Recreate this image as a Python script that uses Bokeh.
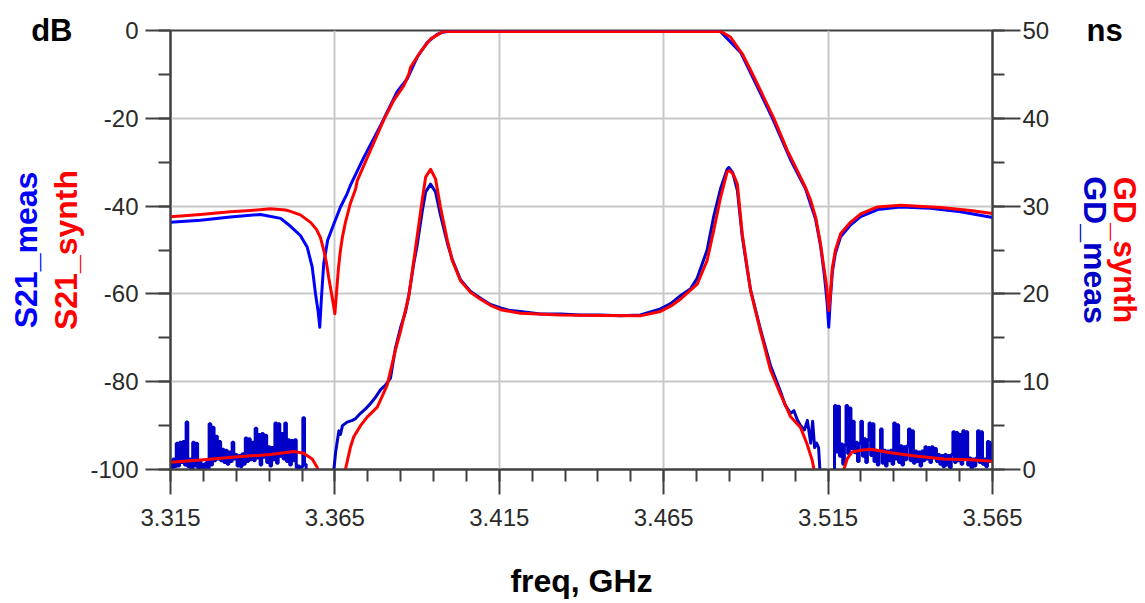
import numpy as np
from bokeh.plotting import figure
from bokeh.models import Range1d, LinearAxis, FixedTicker, PrintfTickFormatter
from bokeh.embed import file_html
from bokeh.resources import INLINE

# ---------------- axes / ticks ----------------
x_ticks = [3.315, 3.365, 3.415, 3.465, 3.515, 3.565]
x_minor = [round(3.315 + 0.01 * k, 3) for k in range(26)]
db_ticks = [-100, -80, -60, -40, -20, 0]
db_minor = list(range(-100, 1, 10))
ns_ticks = [0, 10, 20, 30, 40, 50]
ns_minor = list(range(0, 51, 5))

# ---------------- S21 (dB) ----------------
s21_synth_f = [3.3150, 3.3241, 3.3332, 3.3393, 3.3454, 3.3500, 3.3515, 3.3545, 3.3576, 3.3594,
               3.3606, 3.3616, 3.3624, 3.3631, 3.3640, 3.3650, 3.3657, 3.3661, 3.3667, 3.3673,
               3.3682, 3.3697, 3.3713, 3.3718, 3.3758, 3.3799, 3.3829, 3.3860, 3.3875, 3.3880,
               3.3910, 3.3941, 3.3971, 3.3981, 3.4000, 3.4400, 3.4817, 3.4823, 3.4828, 3.4853,
               3.4889, 3.4914, 3.4944, 3.4985, 3.5026, 3.5041, 3.5066, 3.5081, 3.5097, 3.5112,
               3.5127, 3.5137, 3.5145, 3.5152, 3.5157, 3.5163, 3.5172, 3.5188, 3.5218, 3.5249,
               3.5300, 3.5370, 3.5492, 3.5583, 3.5650]
s21_synth_db = [-42.4, -41.9, -41.3, -41.0, -40.6, -40.9, -41.2, -42.0, -43.7, -45.3,
                -47.2, -50.0, -52.8, -56.2, -60.0, -64.5, -57.7, -54.0, -50.0, -47.0,
                -43.7, -39.4, -36.1, -34.2, -27.3, -20.3, -15.9, -12.5, -9.9, -8.4,
                -4.9, -1.9, -0.6, -0.25, -0.2, -0.2, -0.2, -0.3, -0.4, -1.5,
                -5.3, -9.0, -13.6, -20.0, -27.3, -29.6, -33.4, -35.7, -38.7, -42.5,
                -48.6, -53.9, -58.0, -63.8, -60.0, -54.0, -50.1, -46.3, -43.7, -41.8,
                -40.2, -39.8, -40.3, -41.0, -41.7]

s21_meas_f = [3.3150, 3.3241, 3.3332, 3.3424, 3.3485, 3.3515, 3.3545, 3.3566, 3.3581, 3.3591,
              3.3599, 3.3604, 3.3609, 3.3616, 3.3628, 3.3647, 3.3667, 3.3687, 3.3697, 3.3738,
              3.3789, 3.3839, 3.3870, 3.3900, 3.3931, 3.3961, 3.3976, 3.4000, 3.4400, 3.4817,
              3.4823, 3.4884, 3.4981, 3.5036, 3.5081, 3.5112, 3.5127, 3.5139, 3.5147, 3.5152,
              3.5157, 3.5163, 3.5172, 3.5188, 3.5218, 3.5249, 3.5301, 3.5370, 3.5461, 3.5553,
              3.5650]
s21_meas_db = [-43.7, -43.2, -42.5, -41.9, -42.8, -44.6, -46.7, -49.4, -53.9, -60.0,
               -64.0, -67.6, -61.0, -53.1, -47.8, -44.0, -40.2, -37.2, -35.3, -28.9,
               -21.6, -14.0, -11.0, -6.1, -2.7, -0.9, -0.4, -0.2, -0.2, -0.2,
               -0.3, -5.0, -20.0, -29.5, -36.0, -43.0, -49.0, -56.0, -62.0, -67.6,
               -61.0, -55.0, -50.8, -47.0, -44.3, -42.4, -40.8, -40.2, -40.5, -41.3,
               -42.6]

# ---------------- group delay (ns) ----------------
gd_synth_f = [3.3150, 3.3251, 3.3373, 3.3454, 3.3525, 3.3555, 3.3581, 3.3596, 3.3606, 3.3637,
              3.3676, 3.3682, 3.3697, 3.3707, 3.3728, 3.3748, 3.3779, 3.3809, 3.3834, 3.3850,
              3.3875, 3.3890, 3.3900, 3.3916, 3.3926, 3.3941, 3.3956, 3.3971, 3.3992, 3.4007,
              3.4032, 3.4062, 3.4093, 3.4123, 3.4154, 3.4214, 3.4336, 3.4458, 3.4579, 3.4640,
              3.4671, 3.4701, 3.4752, 3.4782, 3.4802, 3.4823, 3.4843, 3.4851, 3.4862, 3.4874,
              3.4889, 3.4904, 3.4914, 3.4944, 3.4975, 3.5005, 3.5036, 3.5066, 3.5086, 3.5102,
              3.5107, 3.5115, 3.5157, 3.5191, 3.5198, 3.5208, 3.5223, 3.5249, 3.5279, 3.5340,
              3.5421, 3.5502, 3.5583, 3.5650]
gd_synth_ns = [0.83, 1.1, 1.5, 1.7, 2.05, 1.86, 1.2, 0.26, -1.5, -5.0,
               -1.0, 0.0, 2.5, 3.7, 5.0, 5.96, 7.1, 9.6, 13.6, 15.8,
               19.8, 23.8, 26.5, 30.8, 33.3, 34.2, 33.1, 29.9, 26.1, 23.8,
               21.5, 20.2, 19.4, 18.7, 18.2, 17.8, 17.6, 17.55, 17.5, 18.0,
               18.6, 19.4, 21.1, 23.8, 27.2, 31.0, 33.9, 34.05, 33.6, 32.5,
               26.8, 23.0, 20.4, 15.8, 11.3, 8.6, 6.0, 4.8, 2.9, 1.0,
               0.0, -1.5, -5.0, -1.0, 0.0, 1.2, 2.0, 2.2, 2.3, 1.9,
               1.5, 1.2, 1.1, 0.95]

# measured GD, noisy stop band below the passband (one sample every 0.5 MHz from 3.315 GHz)
gd_meas_low_start = 3.315
gd_meas_low_ns = [0.9, 0.2, 1.2, 0.3, 3.0, 0.4, 3.1, 0.8, 3.2, 0.5,
                  5.4, 0.3, 1.2, -0.3, 3.1, 0.4, 3.0, 0.2, 1.0, -0.2,
                  0.6, -0.4, 0.8, 0.1, 5.2, 0.5, 4.8, 1.0, 3.8, 1.2,
                  3.2, 1.0, 2.3, 0.8, 2.2, 0.6, 2.0, 0.9, 3.1, 1.2,
                  1.7, 0.4, 1.6, 0.3, 1.8, 0.6, 3.6, 0.9, 3.5, 1.1,
                  3.1, 1.0, 4.7, 1.3, 4.0, 0.5, 4.1, 1.4, 3.9, 0.8,
                  2.6, 0.4, 2.5, 1.1, 5.3, 0.7, 5.2, 1.5, 4.1, 1.2,
                  5.3, 0.9, 3.4, 0.5, 3.3, 1.0, 3.4, 0.2, 0.4, -0.3,
                  0.3, 5.9, 0.6, -1.0]
# measured GD, passband region
gd_meas_mid_f = [3.3576, 3.3640, 3.3647, 3.3652, 3.3662, 3.3667, 3.3673, 3.3687, 3.3703, 3.3713,
                 3.3728, 3.3743, 3.3758, 3.3773, 3.3789, 3.3804, 3.3819, 3.3834, 3.3850, 3.3865,
                 3.3875, 3.3890, 3.3900, 3.3916, 3.3926, 3.3941, 3.3956, 3.3971, 3.3992, 3.4007,
                 3.4032, 3.4062, 3.4093, 3.4123, 3.4154, 3.4184, 3.4214, 3.4275, 3.4336, 3.4397,
                 3.4458, 3.4519, 3.4579, 3.4640, 3.4671, 3.4701, 3.4732, 3.4752, 3.4782, 3.4802,
                 3.4823, 3.4843, 3.4848, 3.4860, 3.4874, 3.4889, 3.4904, 3.4914, 3.4944, 3.4975,
                 3.5005, 3.5020, 3.5036, 3.5046, 3.5057, 3.5066, 3.5078, 3.5087, 3.5097, 3.5103,
                 3.5109, 3.5115, 3.5121, 3.5125, 3.5130, 3.5163]
gd_meas_mid_ns = [-4.0, -4.0, 0.0, 1.9, 4.4, 4.0, 5.0, 5.4, 5.6, 5.8,
                  6.4, 6.9, 7.5, 8.2, 9.1, 9.6, 10.4, 13.8, 16.2, 18.0,
                  19.9, 23.5, 25.5, 29.5, 31.6, 32.5, 31.6, 29.0, 25.8, 23.9,
                  21.6, 20.3, 19.5, 18.8, 18.4, 18.1, 18.0, 17.7, 17.7, 17.6,
                  17.6, 17.5, 17.6, 18.3, 18.9, 19.8, 20.6, 21.8, 25.0, 28.8,
                  32.0, 34.2, 34.4, 33.8, 31.8, 26.5, 22.8, 20.5, 16.0, 11.8,
                  8.9, 7.3, 6.4, 6.7, 5.6, 5.0, 4.5, 5.6, 3.0, 5.5,
                  2.5, 3.0, 2.5, 0.0, -3.0, -3.0]
# measured GD, noisy stop band above the passband (one sample every 0.5 MHz from 3.5167 GHz)
gd_meas_high_start = 3.5167
gd_meas_high_ns = [-0.5, 7.3, 2.0, 7.2, 1.5, 2.9, 0.6, 2.8, 7.3, 1.8,
                   7.0, 2.4, 5.5, 1.9, 3.1, 0.9, 3.0, 5.5, 1.5, 3.5,
                   0.8, 3.4, 5.3, 1.6, 5.2, 0.9, 2.2, 0.5, 2.1, 4.6,
                   0.7, 2.2, 0.4, 2.1, 1.0, 2.2, 0.6, 5.3, 1.2, 5.1,
                   0.8, 2.7, 0.5, 2.6, 1.1, 2.7, 4.6, 1.0, 4.4, 0.7,
                   2.1, 0.9, 2.0, 0.4, 2.1, 1.0, 2.6, 1.2, 2.5, 0.8,
                   2.6, 1.3, 2.4, 0.9, 1.7, 0.6, 1.6, 0.3, 1.7, 0.5,
                   1.6, 0.2, 1.7, 4.3, 0.8, 4.2, 1.0, 4.0, 0.6, 4.4,
                   1.2, 4.3, 0.5, 1.3, 0.2, 1.2, 0.4, 1.3, 4.4, 0.8,
                   4.3, 0.6, 1.2, 0.3, 3.2, 0.9, 3.1]

gd_meas_low_f = list(gd_meas_low_start + 0.0005 * np.arange(len(gd_meas_low_ns)))
gd_meas_high_f = list(gd_meas_high_start + 0.0005 * np.arange(len(gd_meas_high_ns)))

# ---------------- styling ----------------
BLUE = "#0000FF"
DBLUE = "#0000C8"
RED = "#FF0000"
FONT = "Liberation Sans"
AX = "#404040"

p = figure(width=1145, height=603, title=None,
           x_range=Range1d(3.315, 3.565), y_range=Range1d(-100, 0),
           output_backend="svg", toolbar_location=None,
           min_border_left=170, min_border_right=153,
           min_border_top=30, min_border_bottom=134)
p.extra_y_ranges = {"gd": Range1d(0, 50)}
p.background_fill_color = "white"
p.border_fill_color = "white"
p.outline_line_color = AX
p.outline_line_width = 2


def style_axis(ax, tick_out, standoff):
    ax.axis_line_color = AX
    ax.axis_line_width = 2
    ax.major_tick_line_color = AX
    ax.major_tick_line_width = 2
    ax.minor_tick_line_color = AX
    ax.minor_tick_line_width = 2
    ax.major_tick_in = 0
    ax.major_tick_out = tick_out
    ax.minor_tick_in = 0
    ax.minor_tick_out = 12
    ax.major_label_text_font = FONT
    ax.major_label_text_font_size = "24px"
    ax.major_label_text_color = "#2a2a2a"
    ax.major_label_standoff = standoff


def text_axis(ax, label, color, label_standoff, tick_text=None, tick_standoff=0, size="32px"):
    """An axis without line or tick marks that only carries texts."""
    ax.axis_line_color = None
    ax.major_tick_line_color = None
    ax.minor_tick_line_color = None
    ax.major_tick_in = 0
    ax.major_tick_out = 0
    ax.minor_tick_in = 0
    ax.minor_tick_out = 0
    ax.axis_label = label
    ax.axis_label_text_font = FONT
    ax.axis_label_text_font_style = "bold"
    ax.axis_label_text_font_size = size
    ax.axis_label_text_color = color
    ax.axis_label_standoff = label_standoff
    ax.major_label_standoff = tick_standoff
    ax.major_label_text_font = FONT
    ax.major_label_text_font_style = "bold"
    ax.major_label_text_font_size = "31px"
    ax.major_label_text_color = "#000000"
    if tick_text is None:
        ax.major_label_text_color = None


# bottom axis
xa = p.xaxis[0]
xa.ticker = FixedTicker(ticks=x_ticks, minor_ticks=x_minor)
xa.formatter = PrintfTickFormatter(format="%.3f")
style_axis(xa, 25, 14)
xa.axis_label = "freq, GHz"
xa.axis_label_text_font = FONT
xa.axis_label_text_font_style = "bold"
xa.axis_label_text_font_size = "32px"
xa.axis_label_text_color = "#000000"
xa.axis_label_standoff = 34

# left dB axis
ya = p.yaxis[0]
ya.ticker = FixedTicker(ticks=db_ticks, minor_ticks=db_minor)
ya.formatter = PrintfTickFormatter(format="%d")
style_axis(ya, 25, 7)

# left text axes: "dB" unit + S21_synth, then S21_meas
l1 = LinearAxis(ticker=FixedTicker(ticks=[0], minor_ticks=[]),
                formatter=PrintfTickFormatter(format="dB"))
text_axis(l1, "S21_synth", RED, -56, tick_text=True, tick_standoff=15)
p.add_layout(l1, "left")
l2 = LinearAxis(ticker=FixedTicker(ticks=[], minor_ticks=[]))
text_axis(l2, "S21_meas", BLUE, 2)
p.add_layout(l2, "left")

# right ns axis
ra = LinearAxis(y_range_name="gd", ticker=FixedTicker(ticks=ns_ticks, minor_ticks=ns_minor))
style_axis(ra, 28, 2)
p.add_layout(ra, "right")

# right text axes: "ns" unit + GD_meas, then GD_synth
r1 = LinearAxis(y_range_name="gd", ticker=FixedTicker(ticks=[50], minor_ticks=[]),
                formatter=PrintfTickFormatter(format="ns"))
text_axis(r1, "GD_meas", DBLUE, -49, tick_text=True, tick_standoff=34)
p.add_layout(r1, "right")
r2 = LinearAxis(y_range_name="gd", ticker=FixedTicker(ticks=[], minor_ticks=[]))
text_axis(r2, "GD_synth", RED, -9, size="31px")
p.add_layout(r2, "right")

# grid
p.xgrid.ticker = FixedTicker(ticks=x_ticks)
p.ygrid.ticker = FixedTicker(ticks=db_ticks)
for g in (p.xgrid[0], p.ygrid[0]):
    g.grid_line_color = "#C8C8C8"
    g.grid_line_width = 2

# traces (measured first, synthesized on top)
p.line(s21_meas_f, s21_meas_db, line_color=BLUE, line_width=3, line_join="round")
p.step(gd_meas_low_f, gd_meas_low_ns, y_range_name="gd", mode="center",
       line_color=DBLUE, line_width=3)
p.line(gd_meas_mid_f, gd_meas_mid_ns, y_range_name="gd", line_color=DBLUE, line_width=3,
       line_join="round")
p.step(gd_meas_high_f, gd_meas_high_ns, y_range_name="gd", mode="center",
       line_color=DBLUE, line_width=3)
p.line(s21_synth_f, s21_synth_db, line_color=RED, line_width=3, line_join="round")
p.line(gd_synth_f, gd_synth_ns, y_range_name="gd", line_color=RED, line_width=3,
       line_join="round")

open("out.html", "w").write(file_html(p, INLINE))
